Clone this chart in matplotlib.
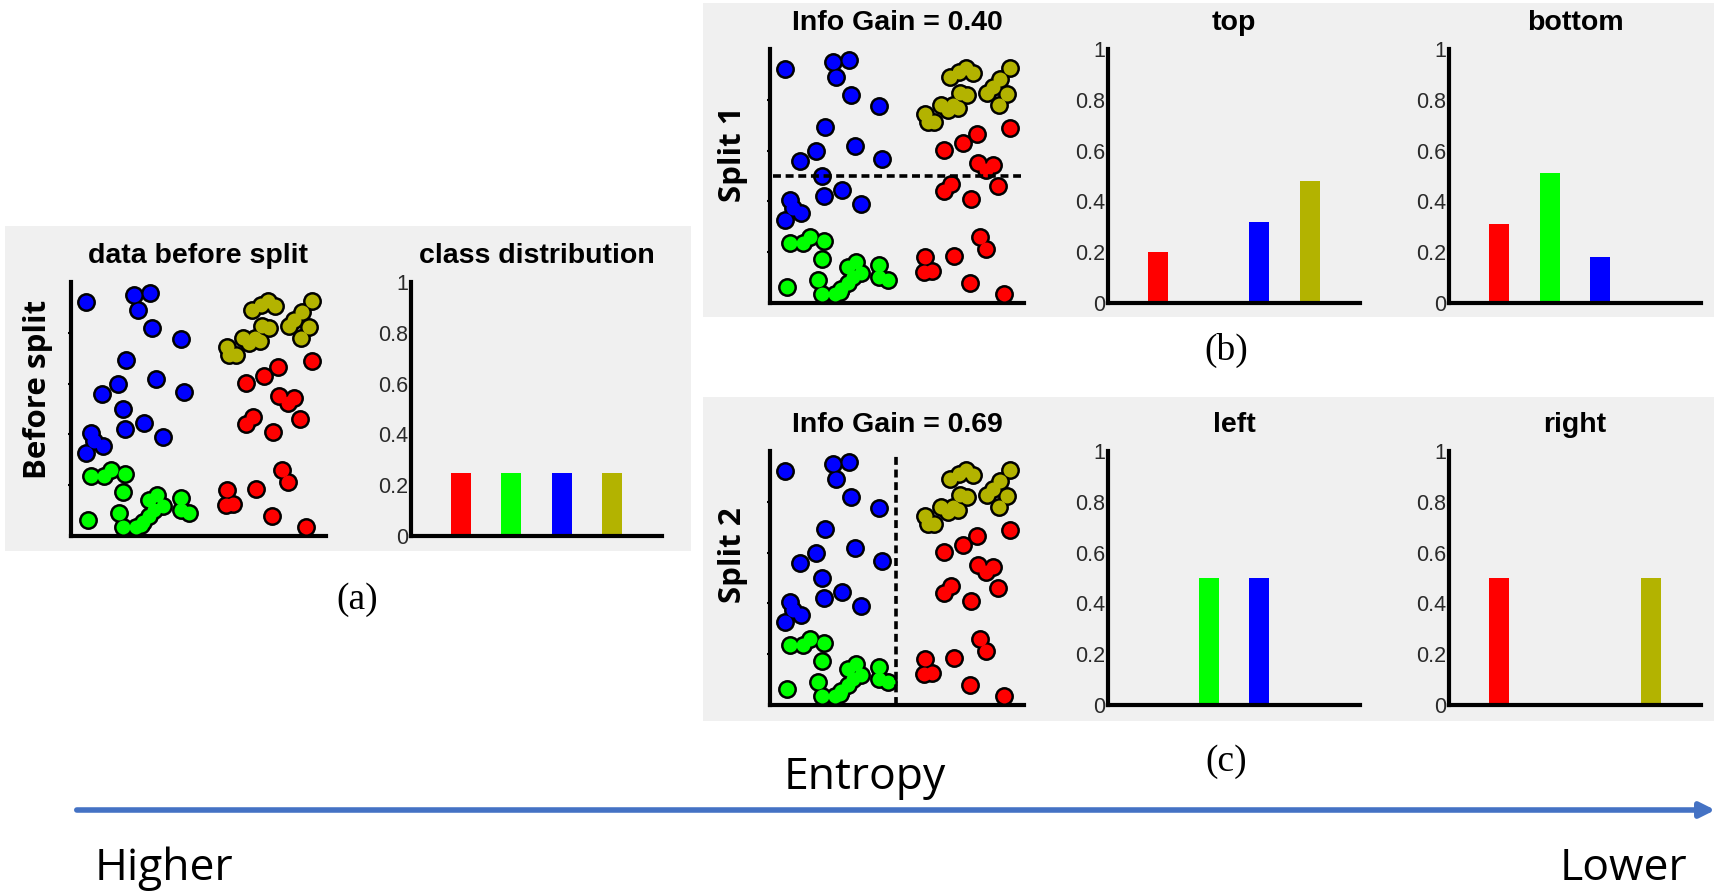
import matplotlib
matplotlib.use("Agg")
import matplotlib.pyplot as plt
from matplotlib.patches import Rectangle, FancyArrowPatch

# class colours: red, green, blue, olive
class_colors = ["#ff0000", "#00ff00", "#0000ff", "#b3b300"]
bar_pos = [1, 2, 3, 4]

blue_x = [0.059, 0.248, 0.310, 0.261, 0.318, 0.431, 0.216, 0.183, 0.120, 0.333,
          0.442, 0.203, 0.212, 0.285, 0.359, 0.078, 0.092, 0.124, 0.059]
blue_y = [0.923, 0.947, 0.956, 0.888, 0.818, 0.776, 0.694, 0.598, 0.558, 0.617,
          0.565, 0.499, 0.420, 0.446, 0.391, 0.406, 0.373, 0.354, 0.325]
green_x = [0.078, 0.131, 0.157, 0.212, 0.203, 0.065, 0.190, 0.203, 0.255, 0.281,
           0.307, 0.327, 0.307, 0.337, 0.359, 0.431, 0.431, 0.464, 0.275]
green_y = [0.235, 0.237, 0.261, 0.245, 0.172, 0.063, 0.090, 0.037, 0.037, 0.057,
           0.077, 0.103, 0.142, 0.162, 0.119, 0.149, 0.103, 0.092, 0.044]
red_x = [0.944, 0.813, 0.758, 0.686, 0.817, 0.876, 0.852, 0.898, 0.712, 0.686,
         0.791, 0.827, 0.852, 0.725, 0.612, 0.608, 0.637, 0.787, 0.922]
red_y = [0.690, 0.664, 0.631, 0.604, 0.551, 0.545, 0.522, 0.462, 0.470, 0.439,
         0.409, 0.259, 0.211, 0.185, 0.182, 0.123, 0.127, 0.077, 0.037]
olive_x = [0.944, 0.906, 0.932, 0.902, 0.856, 0.876, 0.771, 0.800, 0.745, 0.708,
           0.750, 0.776, 0.722, 0.673, 0.699, 0.742, 0.612, 0.621, 0.647]
olive_y = [0.925, 0.881, 0.822, 0.778, 0.826, 0.852, 0.927, 0.905, 0.908, 0.888,
           0.826, 0.818, 0.778, 0.778, 0.760, 0.769, 0.743, 0.712, 0.712]

dist_before = [0.25, 0.25, 0.25, 0.25]
dist_top = [0.20, 0.0, 0.32, 0.48]
dist_bottom = [0.31, 0.51, 0.18, 0.0]
dist_left = [0.0, 0.5, 0.5, 0.0]
dist_right = [0.5, 0.0, 0.0, 0.5]
y_ticks = [0, 0.2, 0.4, 0.6, 0.8, 1]
y_ticklabels = ["0", "0.2", "0.4", "0.6", "0.8", "1"]

W, H = 1714, 891
fig = plt.figure(figsize=(W / 100, H / 100), dpi=100)
fig.patch.set_facecolor("white")

title_font = dict(family=["Liberation Sans", "DejaVu Sans"], weight="bold", size=20.5)
side_font = dict(family=["Open Sans", "DejaVu Sans"], weight="bold", size=22.5)
big_font = dict(family=["Open Sans", "DejaVu Sans"], size=32)
cap_font = dict(family=["Liberation Serif", "DejaVu Serif"], size=27)
tick_family = ["Liberation Sans Narrow", "Liberation Sans", "DejaVu Sans"]


def fx(x):
    return x / W


def fy(y):
    return 1 - y / H


def add_ax(l, t, r, b):
    ax = fig.add_axes([fx(l), fy(b), (r - l) / W, (b - t) / H])
    ax.set_facecolor("none")
    for s in ["top", "right"]:
        ax.spines[s].set_visible(False)
    for s in ["left", "bottom"]:
        ax.spines[s].set_linewidth(3)
        ax.spines[s].set_color("black")
    return ax


def panel(l, t, r, b):
    fig.add_artist(Rectangle((fx(l), fy(b)), (r - l) / W, (b - t) / H,
                             transform=fig.transFigure, facecolor="#f0f0f0",
                             edgecolor="none", zorder=0))


def put_title(ax, title):
    ax.text(0.5, 1.0 + 26 / 254, title, transform=ax.transAxes, ha="center",
            va="center", **title_font)


def scatter_panel(ax, title):
    xs = [red_x, green_x, blue_x, olive_x]
    ys = [red_y, green_y, blue_y, olive_y]
    for x, y in zip(xs, ys):
        ax.scatter(x, y, s=185, color="black", linewidths=0, zorder=2, clip_on=False)
    for x, y, c in zip(xs, ys, class_colors):
        ax.scatter(x, y, s=100, color=c, linewidths=0, zorder=3, clip_on=False)
    ax.set_xlim(0, 1)
    ax.set_ylim(0, 1)
    ax.set_xticks([])
    ax.set_yticks([0.2, 0.4, 0.6, 0.8])
    ax.set_yticklabels([])
    ax.tick_params(axis="y", length=2, width=1.5, direction="out")
    put_title(ax, title)


def bar_panel(ax, vals, title):
    ax.bar(bar_pos, vals, width=0.4, color=class_colors, edgecolor="none", zorder=2)
    ax.set_xlim(0, 5)
    ax.set_ylim(0, 1)
    ax.set_xticks([])
    ax.set_yticks(y_ticks)
    ax.set_yticklabels(y_ticklabels, family=tick_family, size=15.5, color="#2a2a2a")
    ax.tick_params(axis="y", length=0, pad=2)
    put_title(ax, title)


# grey backgrounds
panel(5, 226, 691, 551)
panel(703, 3, 1714, 317)
panel(703, 397, 1714, 721)

# (a) before split
ax = add_ax(71, 282, 326, 536)
scatter_panel(ax, "data before split")
ax = add_ax(411, 282, 662, 536)
bar_panel(ax, dist_before, "class distribution")
fig.text(fx(38), fy(389), "Before split", rotation=90, ha="center", va="center", **side_font)

# (b) split 1
ax = add_ax(770, 49, 1024, 303)
scatter_panel(ax, "Info Gain = 0.40")
ax.axhline(0.5, xmin=0.01, xmax=0.99, color="black", lw=2.6, dashes=(2.2, 1.3), zorder=4)
ax = add_ax(1108, 49, 1360, 303)
bar_panel(ax, dist_top, "top")
ax = add_ax(1449, 49, 1701, 303)
bar_panel(ax, dist_bottom, "bottom")
fig.text(fx(733), fy(154), "Split 1", rotation=90, ha="center", va="center", **side_font)

# (c) split 2
ax = add_ax(770, 451, 1024, 705)
scatter_panel(ax, "Info Gain = 0.69")
ax.axvline(0.495, ymin=0, ymax=0.99, color="black", lw=2.6, dashes=(2.2, 1.3), zorder=4)
ax = add_ax(1108, 451, 1360, 705)
bar_panel(ax, dist_left, "left")
ax = add_ax(1449, 451, 1701, 705)
bar_panel(ax, dist_right, "right")
fig.text(fx(733), fy(555), "Split 2", rotation=90, ha="center", va="center", **side_font)

# captions
fig.text(fx(357), fy(600), "(a)", ha="center", va="center", **cap_font)
fig.text(fx(1226), fy(350), "(b)", ha="center", va="center", **cap_font)
fig.text(fx(1226), fy(762), "(c)", ha="center", va="center", **cap_font)

# entropy arrow
fig.add_artist(FancyArrowPatch((fx(74), fy(810)), (fx(1718), fy(810)),
                               transform=fig.transFigure, arrowstyle="-|>",
                               mutation_scale=22, lw=4, color="#4472c4"))
fig.text(fx(784), fy(789), "Entropy", ha="left", va="baseline", **big_font)
fig.text(fx(95), fy(880), "Higher", ha="left", va="baseline", **big_font)
fig.text(fx(1687), fy(880), "Lower", ha="right", va="baseline", **big_font)

fig.savefig("out.png", dpi=100)
